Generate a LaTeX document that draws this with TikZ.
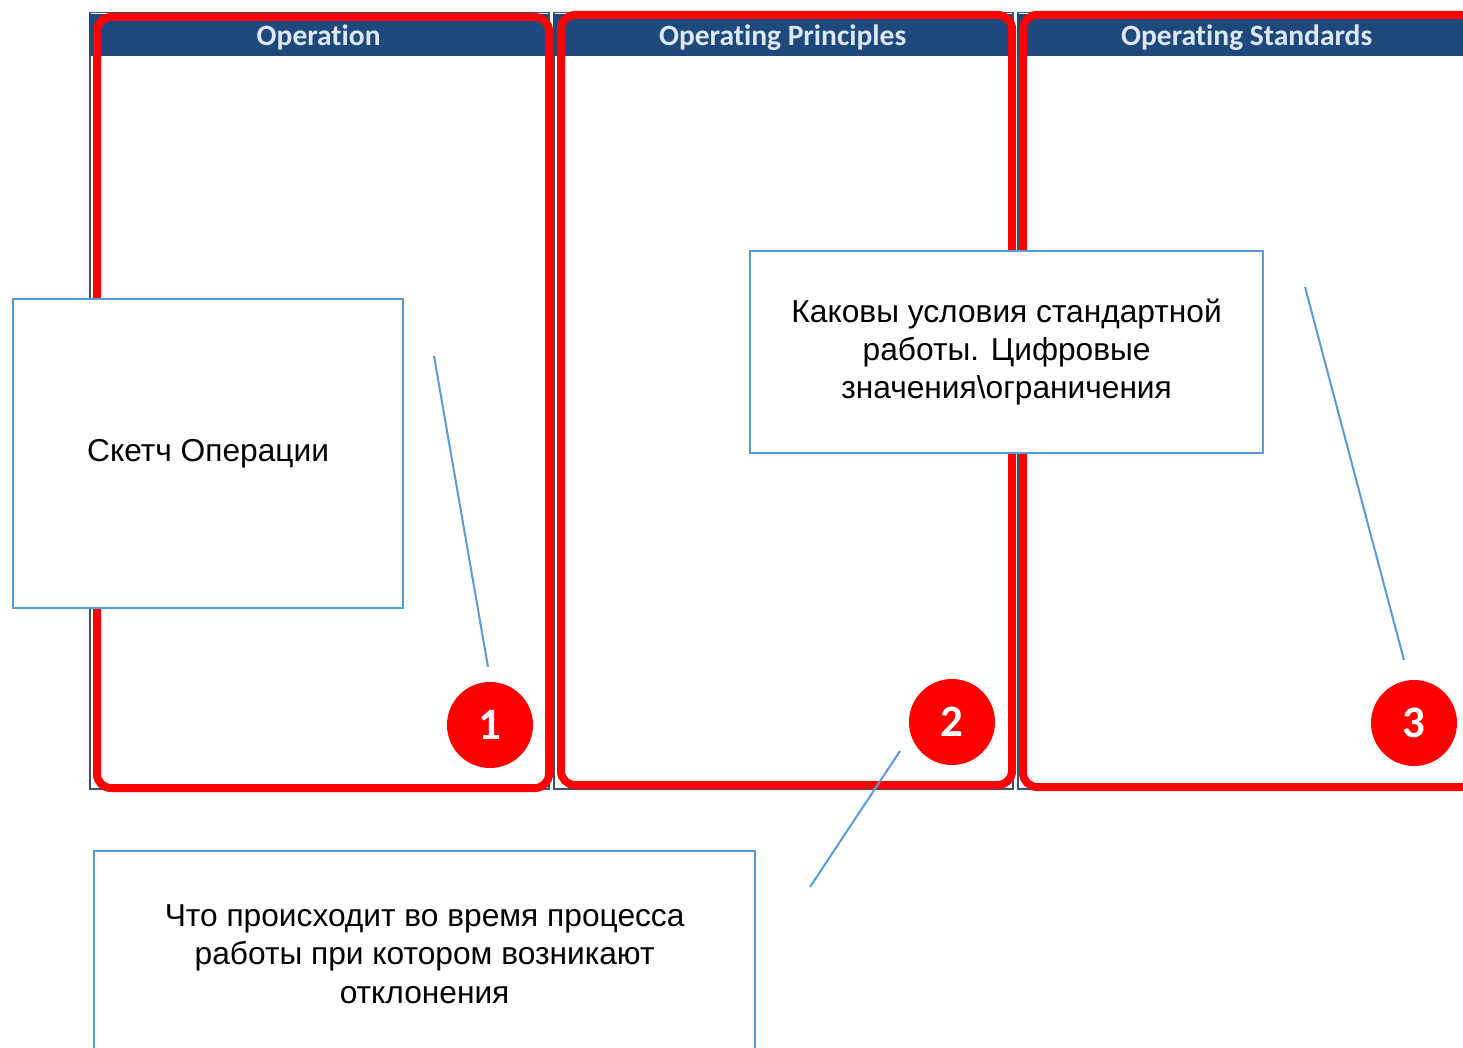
\documentclass[tikz,border=0pt]{standalone}
\usepackage{fontspec}
\setmainfont{Liberation Sans}
\newfontfamily\hdrfont{Carlito}[Ligatures=NoCommon]
\definecolor{hdrblue}{HTML}{1F497D}
\definecolor{panelline}{HTML}{3A5275}
\definecolor{hdrtext}{HTML}{DCE8F4}
\definecolor{callblue}{HTML}{5B9BD5}
\definecolor{framered}{HTML}{FF0000}
\tikzset{
  panel/.style={draw=panelline, line width=1.5pt, fill=white, anchor=north west,
    inner sep=0pt, minimum width=459, minimum height=776},
  header/.style={fill=hdrblue, anchor=north west, inner sep=0pt,
    minimum width=459, minimum height=42, text=hdrtext, text depth=0pt,
    font=\hdrfont\bfseries\fontsize{29.5}{32}\selectfont},
  redframe/.style={draw=framered, line width=8pt, rounded corners=14pt,
    anchor=north west, inner sep=0pt},
  badge/.style={circle, fill=framered, minimum size=86, inner sep=0pt,
    text=white, font=\hdrfont\bfseries\fontsize{45}{45}\selectfont},
  callout/.style={draw=callblue, line width=2.2pt, fill=white, anchor=north west,
    inner sep=0pt, align=center, font=\fontsize{31.7}{38.3}\selectfont},
  pointer/.style={draw=callblue, line width=2pt}
}
\begin{document}
\begin{tikzpicture}[x=1pt,y=-1pt]
\useasboundingbox (0,0) rectangle (1463,1048);
\clip (0,0) rectangle (1463,1048);

% three columns with dark headers
\node[panel] (p1) at (89,12) {};
\node[panel] (p2) at (553,12) {};
\node[panel] (p3) at (1017,12) {};
\node[header] (h1) at ([yshift=-2]p1.north west) {Operation};
\node[header] (h2) at ([yshift=-2]p2.north west) {Operating Principles};
\node[header] (h3) at ([yshift=-2]p3.north west) {Operating Standards};

% red highlight frames
\node[redframe, minimum width=452, minimum height=771] (f1) at (93,13) {};
\node[redframe, minimum width=451, minimum height=770] (f2) at (557,11) {};
\node[redframe, minimum width=452, minimum height=772] (f3) at (1019,11) {};

% pointer lines
\coordinate (a1) at (434,356);
\coordinate (e1) at (488,667);
\coordinate (a2) at (900,751);
\coordinate (e2) at (810,887);
\coordinate (a3) at (1305,287);
\coordinate (e3) at (1404,660);
\draw[pointer] (a1) -- (e1);
\draw[pointer] (a2) -- (e2);
\draw[pointer] (a3) -- (e3);

% numbered badges
\node[badge] (n1) at (490,725) {1};
\node[badge] (n2) at (952,722) {2};
\node[badge] (n3) at (1414,723) {3};

% callout boxes
\node[callout, minimum width=390, minimum height=309] (b1) at (12,298) {Скетч Операции};
\node[callout, minimum width=513, minimum height=202] (b2) at (749,250)
  {Каковы условия стандартной\\работы. Цифровые\\значения\textbackslash ограничения};
\node[callout, minimum width=661, minimum height=206] (b3) at (93,850)
  {Что происходит во время процесса\\работы при котором возникают\\отклонения};
\end{tikzpicture}
\end{document}
